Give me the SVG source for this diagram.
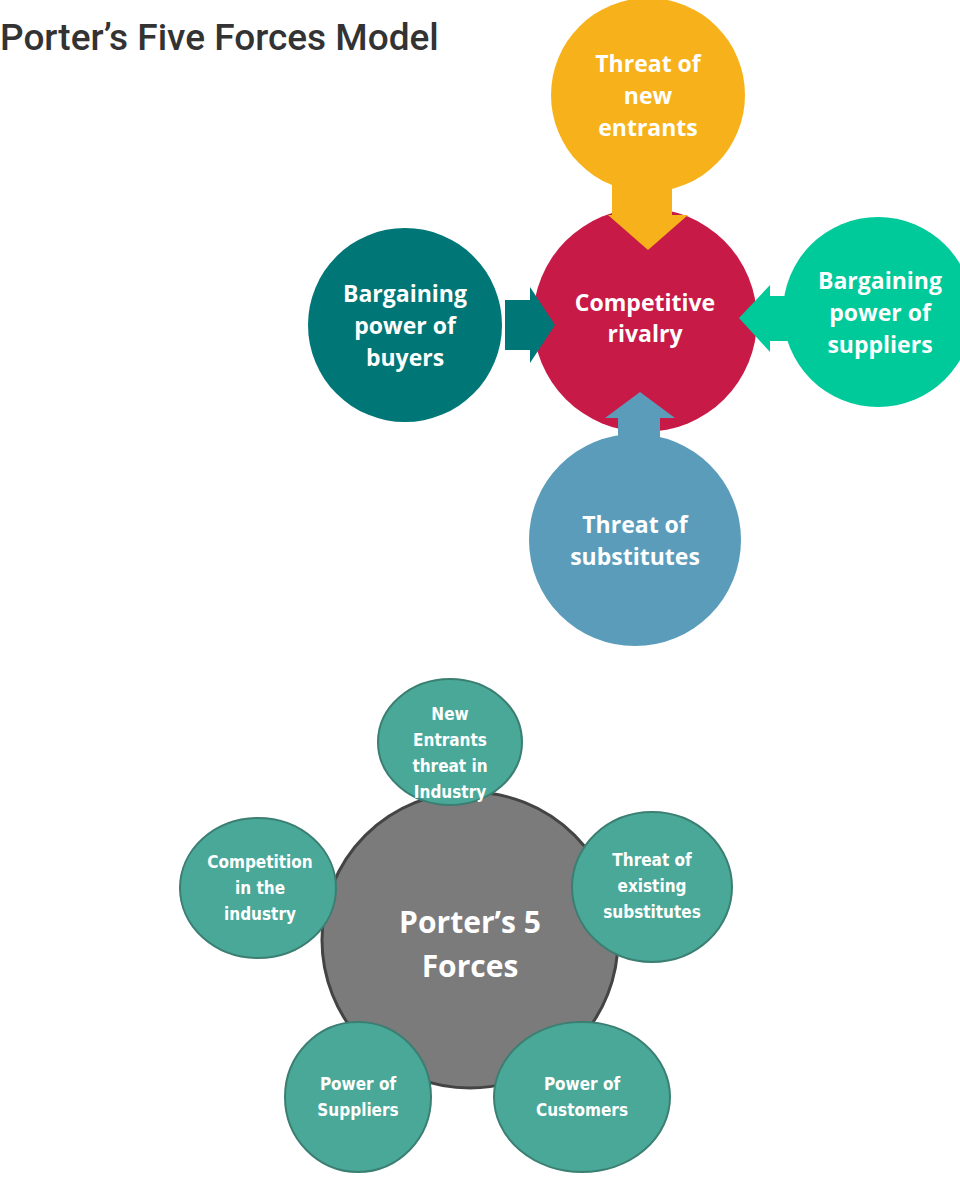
<svg xmlns="http://www.w3.org/2000/svg" width="960" height="1200" viewBox="0 0 960 1200">
<style>
.t{font-family:"Open Sans","DejaVu Sans",sans-serif;font-weight:bold;fill:#fff;text-anchor:middle}
.top{font-size:23px}
.e{fill:#4aa898;stroke:#3b7f72;stroke-width:2}
.s{font-family:"DejaVu Sans Condensed","Liberation Sans",sans-serif;font-weight:bold;font-size:17px;fill:#fff;text-anchor:middle}
</style>
<rect width="960" height="1200" fill="#fff"/>
<text x="0" y="50" font-family="Roboto,Liberation Sans,sans-serif" font-weight="500" font-size="37" fill="#333">Porter’s Five Forces Model</text>
<g id="rivalry"><circle cx="645" cy="320" r="112" fill="#c81a47"/><text class="t top" x="645" y="311">Competitive</text><text class="t top" x="645" y="342">rivalry</text></g>
<g id="entrants"><circle cx="648" cy="95" r="97" fill="#f7b21b"/><text class="t top" x="648" y="72">Threat of</text><text class="t top" x="648" y="104">new</text><text class="t top" x="648" y="136">entrants</text></g>
<g id="buyers"><circle cx="405" cy="325" r="97" fill="#007676"/><text class="t top" x="405" y="302">Bargaining</text><text class="t top" x="405" y="334">power of</text><text class="t top" x="405" y="366">buyers</text></g>
<g id="suppliers"><circle cx="878" cy="312" r="95" fill="#00c99a"/><text class="t top" x="880" y="289">Bargaining</text><text class="t top" x="880" y="321">power of</text><text class="t top" x="880" y="353">suppliers</text></g>
<g id="substitutes"><circle cx="635" cy="540" r="106" fill="#5b9cbb"/><text class="t top" x="635" y="533">Threat of</text><text class="t top" x="635" y="565">substitutes</text></g>
<g id="connectors">
<path d="M612 185H672V215H688L648 250L608 215H612Z" fill="#f7b21b"/>
<path d="M505 300H530V287L555 325L530 363V350H505Z" fill="#007676"/>
<path d="M790 296H770V285L739 318L770 352V341H790Z" fill="#00c99a"/>
<path d="M618 440V418H605L640 392L675 418H660V440Z" fill="#5b9cbb"/>
</g>
<g id="center5"><circle cx="470" cy="940" r="148" fill="#7b7b7b" stroke="#444" stroke-width="3"/><text class="t" font-size="30" x="470" y="933">Porter’s 5</text><text class="t" font-size="30" x="470" y="977">Forces</text></g>
<g id="new"><ellipse class="e" cx="450" cy="742" rx="72" ry="63"/><text class="s" x="450" y="720">New</text><text class="s" x="450" y="746">Entrants</text><text class="s" x="450" y="772">threat in</text><text class="s" x="450" y="798">Industry</text></g>
<g id="competition"><ellipse class="e" cx="258" cy="888" rx="78" ry="70"/><text class="s" x="260" y="868">Competition</text><text class="s" x="260" y="894">in the</text><text class="s" x="260" y="920">industry</text></g>
<g id="existing"><ellipse class="e" cx="652" cy="887" rx="80" ry="75"/><text class="s" x="652" y="866">Threat of</text><text class="s" x="652" y="892">existing</text><text class="s" x="652" y="918">substitutes</text></g>
<g id="powsup"><ellipse class="e" cx="358" cy="1097" rx="73" ry="75"/><text class="s" x="358" y="1090">Power of</text><text class="s" x="358" y="1116">Suppliers</text></g>
<g id="powcus"><ellipse class="e" cx="582" cy="1097" rx="88" ry="75"/><text class="s" x="582" y="1090">Power of</text><text class="s" x="582" y="1116">Customers</text></g>
</svg>
